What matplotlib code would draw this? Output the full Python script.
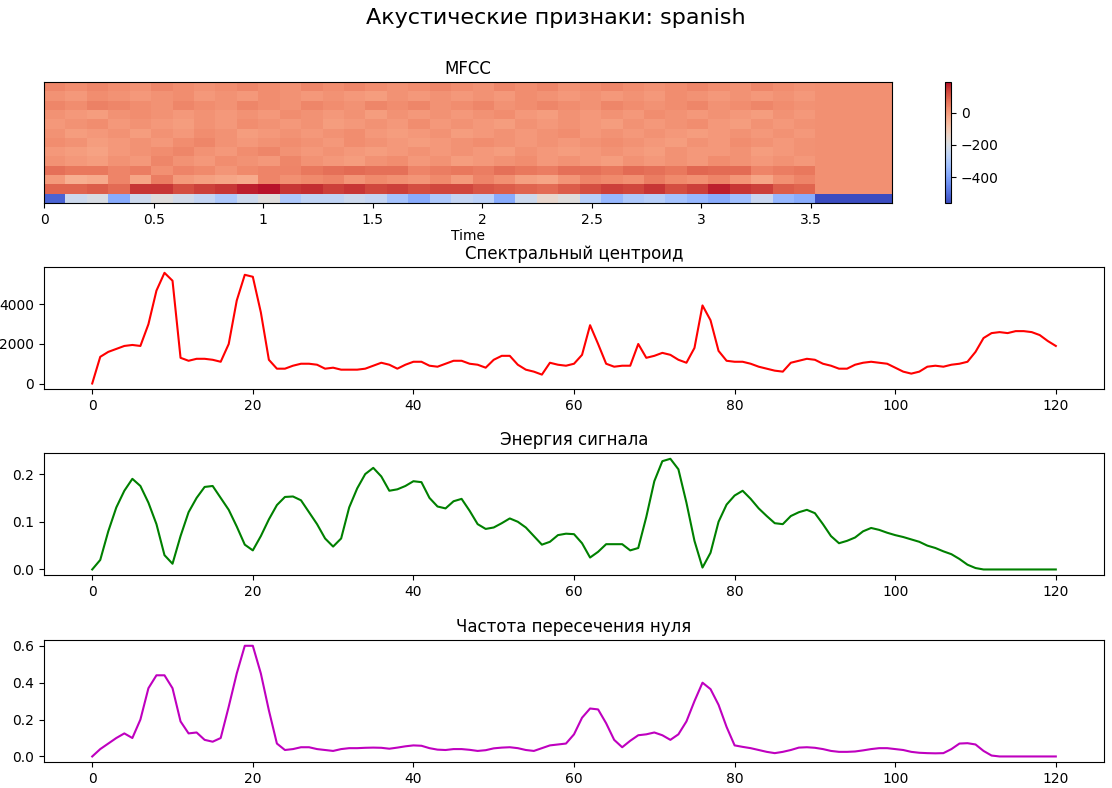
import numpy as np
import matplotlib
matplotlib.use("Agg")
import matplotlib.pyplot as plt

# spectral centroid per frame
centroid = [0, 1350, 1600, 1750, 1900, 1950, 1900, 3000, 4700, 5600,
            5200, 1300, 1150, 1250, 1250, 1200, 1100, 2000, 4200, 5500,
            5400, 3600, 1200, 750, 750, 900, 1000, 1000, 950, 750,
            800, 700, 700, 700, 750, 900, 1050, 950, 750, 950,
            1100, 1100, 900, 850, 1000, 1150, 1150, 1000, 950, 800,
            1200, 1400, 1400, 950, 700, 600, 450, 1050, 950, 900,
            1000, 1450, 2950, 2000, 1000, 850, 900, 900, 2000, 1300,
            1400, 1550, 1450, 1200, 1050, 1800, 3950, 3200, 1650, 1150,
            1100, 1100, 1000, 850, 750, 650, 600, 1050, 1150, 1250,
            1200, 1000, 900, 750, 750, 950, 1050, 1100, 1050, 1000,
            800, 600, 500, 600, 850, 900, 850, 950, 1000, 1100,
            1600, 2300, 2550, 2600, 2550, 2650, 2650, 2600, 2450, 2150,
            1900]

# RMS energy per frame
energy = [0, 0.02, 0.08, 0.13, 0.165, 0.19, 0.175, 0.14, 0.095, 0.03,
          0.012, 0.07, 0.12, 0.15, 0.173, 0.175, 0.15, 0.125, 0.09, 0.052,
          0.04, 0.07, 0.105, 0.135, 0.152, 0.153, 0.145, 0.12, 0.095, 0.065,
          0.048, 0.065, 0.13, 0.17, 0.2, 0.213, 0.195, 0.165, 0.168, 0.175,
          0.185, 0.183, 0.15, 0.132, 0.128, 0.143, 0.148, 0.123, 0.095, 0.085,
          0.088, 0.097, 0.107, 0.1, 0.088, 0.07, 0.052, 0.058, 0.072, 0.075,
          0.074, 0.055, 0.025, 0.037, 0.053, 0.053, 0.053, 0.04, 0.045, 0.11,
          0.185, 0.227, 0.232, 0.21, 0.14, 0.06, 0.004, 0.035, 0.1, 0.136,
          0.155, 0.165, 0.148, 0.128, 0.112, 0.097, 0.095, 0.112, 0.12, 0.125,
          0.118, 0.095, 0.07, 0.055, 0.06, 0.067, 0.08, 0.087, 0.083, 0.077,
          0.072, 0.068, 0.063, 0.058, 0.05, 0.045, 0.038, 0.032, 0.022, 0.01,
          0.003, 0, 0, 0, 0, 0, 0, 0, 0, 0,
          0]

# zero crossing rate per frame
zcr = [0, 0.04, 0.07, 0.1, 0.125, 0.1, 0.2, 0.37, 0.44, 0.44,
       0.37, 0.19, 0.125, 0.13, 0.09, 0.08, 0.1, 0.27, 0.45, 0.6,
       0.6, 0.45, 0.25, 0.07, 0.035, 0.04, 0.05, 0.05, 0.04, 0.035,
       0.03, 0.04, 0.045, 0.045, 0.047, 0.048, 0.047, 0.042, 0.048, 0.055,
       0.06, 0.058, 0.045, 0.037, 0.035, 0.04, 0.04, 0.036, 0.03, 0.034,
       0.044, 0.048, 0.05, 0.045, 0.035, 0.03, 0.045, 0.06, 0.065, 0.07,
       0.12, 0.21, 0.26, 0.255, 0.18, 0.09, 0.05, 0.085, 0.115, 0.12,
       0.13, 0.115, 0.09, 0.12, 0.19, 0.3, 0.4, 0.365, 0.28, 0.16,
       0.06, 0.052, 0.045, 0.035, 0.025, 0.018, 0.025, 0.035, 0.048, 0.05,
       0.047, 0.04, 0.03, 0.025, 0.025, 0.027, 0.033, 0.04, 0.045, 0.045,
       0.04, 0.035, 0.025, 0.02, 0.018, 0.017, 0.018, 0.04, 0.07, 0.072,
       0.065, 0.03, 0.005, 0, 0, 0, 0, 0, 0, 0,
       0]

# MFCC, coarse (~0.1 s per column), bottom row = coefficient 0
mfcc_rows = [
    [-520, -230, -200, -380, -230, -180, -220, -250, -300, -230, -180, -300, -260,
     -260, -230, -250, -320, -380, -300, -250, -270, -380, -230, -150, -180, -280,
     -350, -300, -280, -320, -350, -380, -330, -240, -350, -380, -560, -560, -560],
    [90, 90, 100, 80, 150, 150, 120, 140, 150, 170, 180, 150, 160,
     140, 150, 130, 140, 120, 130, 130, 110, 100, 90, 80, 100, 120,
     140, 130, 150, 120, 140, 170, 150, 140, 100, 90, 20, 20, 20],
    [0, -40, -30, 40, -20, 50, 0, -10, -20, -30, 40, 20, 30,
     40, 10, 30, 20, 10, 30, 0, 40, 20, -10, -20, 10, 40,
     30, 20, 50, 30, 20, 40, 10, -20, 20, 40, 20, 20, 20],
    [70, 60, 60, 40, 50, 20, 40, 30, 10, 30, 40, 40, 60,
     70, 80, 70, 70, 40, 50, 60, 50, 70, 60, 50, 70, 70,
     60, 80, 70, 60, 85, 80, 80, 40, 50, 60, 20, 20, 20],
    [15, 5, -5, 15, 5, 35, 15, 5, 25, 15, 5, 35, 15,
     5, -5, 15, 25, 5, 15, -5, 5, 15, 25, 5, 15, 5,
     -5, 15, 5, 15, 5, 25, 15, 5, 15, 5, 20, 20, 20],
    [5, -5, -15, 5, 15, 25, 35, 15, 5, 25, 35, 15, 5,
     15, 5, -5, 5, 15, 5, 15, 5, -5, 15, 5, -5, 5,
     15, 5, -5, 15, 5, 5, 15, -5, 5, 15, 20, 20, 20],
    [25, 15, -5, 5, 15, 5, 25, 35, 15, 5, 15, 25, 15,
     5, 25, 15, 5, -5, 5, 15, 25, 15, 5, 15, 5, 15,
     25, 15, 5, -5, 15, 5, 25, 15, 5, 15, 20, 20, 20],
    [15, -5, 5, 15, -5, 15, 5, 25, 15, -5, 5, 15, 5,
     15, 25, 5, -5, 5, 15, -5, 5, 15, 5, 15, 25, 5,
     15, 5, 15, 5, -5, 5, 15, 5, 15, 5, 20, 20, 20],
    [5, 15, 25, 5, 15, 5, -5, 15, 5, 25, 15, 5, 15,
     -5, 5, 15, 5, 25, 5, 15, 5, -5, 15, 5, 15, 5,
     -5, 15, 5, 15, 25, 5, -5, 15, 5, 15, 20, 20, 20],
    [15, 5, -5, 15, 25, 15, 5, 15, 5, 15, 5, 25, 15,
     5, 15, -5, 15, 5, 15, 5, 15, 25, 5, -5, 15, 5,
     15, 5, 25, 15, 5, 15, 5, -5, 15, 5, 20, 20, 20],
    [35, 25, 45, 35, 25, 15, 35, 25, 15, 35, 25, 15, 35,
     25, 15, 35, 25, 35, 15, 25, 35, 15, 25, 35, 25, 15,
     35, 25, 15, 25, 35, 15, 25, 35, 25, 15, 20, 20, 20],
    [15, 5, 25, 15, 5, 15, 25, 5, 15, 5, 25, 15, 5,
     15, 5, -5, 15, 5, 15, 5, 15, 5, 25, 15, 5, 15,
     5, 15, 5, 25, 15, 5, 15, 5, 15, 5, 20, 20, 20],
    [35, 25, 35, 25, 15, 35, 25, 15, 25, 35, 25, 15, 35,
     25, 35, 25, 15, 25, 35, 25, 15, 35, 25, 35, 15, 25,
     35, 25, 15, 25, 35, 25, 15, 35, 25, 15, 20, 20, 20],
]
mfcc_duration = 3.87

fig = plt.figure(figsize=(11.12, 7.88), dpi=100)
fig.suptitle("Акустические признаки: spanish", fontsize=16, y=0.99)

m = np.array(mfcc_rows, dtype=float)
ax1 = fig.add_axes([0.0396, 0.7424, 0.7626, 0.1536])
xe = np.linspace(0, 3.52, m.shape[1] - 2)
xe = np.concatenate([xe, [3.52 + (mfcc_duration - 3.52) / 3 * k for k in (1, 2, 3)]])
xe = xe[:m.shape[1] + 1]
xe[-1] = mfcc_duration
ye = np.arange(m.shape[0] + 1)
mesh = ax1.pcolormesh(xe, ye, m, cmap="coolwarm", vmin=-560, vmax=190)
ax1.set_xlim(0, mfcc_duration)
ax1.set_yticks([])
ax1.set_xticks(np.arange(0, 3.6, 0.5))
ax1.set_xticklabels(["0", "0.5", "1", "1.5", "2", "2.5", "3", "3.5"])
ax1.set_xlabel("Time", labelpad=2)
ax1.set_title("MFCC")
cax = fig.add_axes([0.8498, 0.7424, 0.0054, 0.1536])
fig.colorbar(mesh, cax=cax, ticks=[0, -200, -400])

series = [(centroid, "r", "Спектральный центроид", 0.5063),
          (energy, "g", "Энергия сигнала", 0.2703),
          (zcr, "m", "Частота пересечения нуля", 0.033)]
for vals, col, title, bottom in series:
    ax = fig.add_axes([0.0396, bottom, 0.9532, 0.1545])
    ax.plot(np.arange(len(vals)), vals, color=col)
    ax.set_title(title)

fig.savefig("out.png", dpi=100)
